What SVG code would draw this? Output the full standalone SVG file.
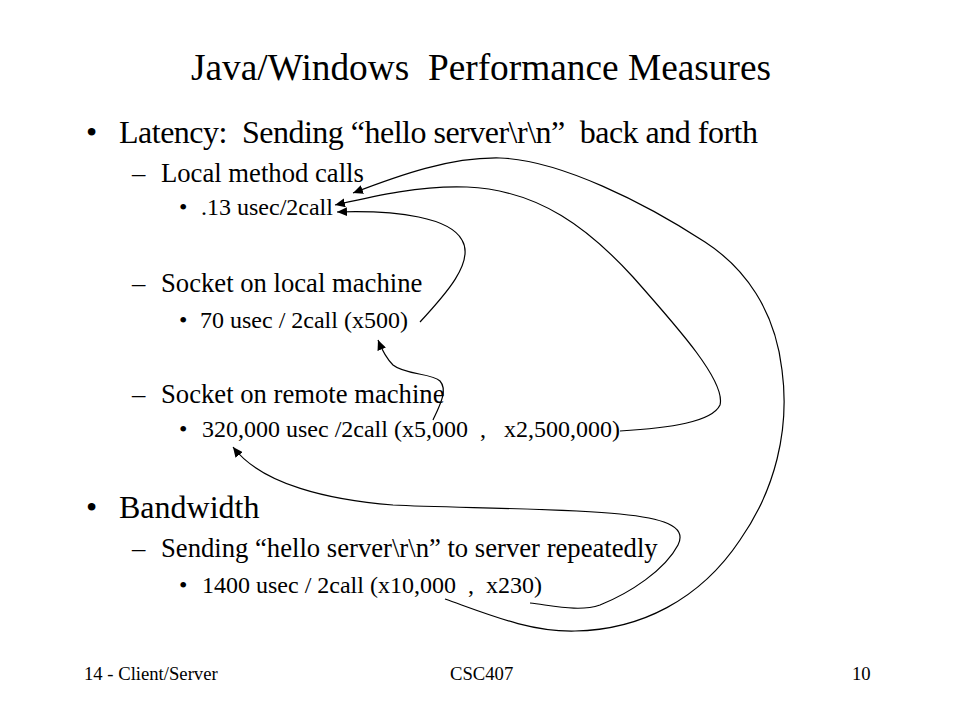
<svg xmlns="http://www.w3.org/2000/svg" width="960" height="720" viewBox="0 0 960 720">
<style>
text { font-family: "Liberation Serif", "Times New Roman", serif; fill: #000; white-space: pre; }
.title { font-size: 37.33px; }
.l1 { font-size: 32px; }
.l2 { font-size: 26.67px; }
.l3 { font-size: 24px; }
.foot { font-size: 18.67px; }
.conn { fill: none; stroke: #000; stroke-width: 1.2; marker-end: url(#ah); }
</style>
<defs>
<marker id="ah" markerUnits="userSpaceOnUse" markerWidth="11" markerHeight="9" refX="10" refY="4.5" orient="auto">
<path d="M0,0 L10,4.5 L0,9 z" fill="#000"/>
</marker>
</defs>
<rect width="960" height="720" fill="#fff"/>
<g id="title"><text class="title" x="481" y="80" text-anchor="middle" xml:space="preserve">Java/Windows  Performance Measures</text></g>
<g id="latency">
<text class="l1" x="86" y="143">•</text>
<text class="l1" x="119" y="143" xml:space="preserve" textLength="639" lengthAdjust="spacing">Latency:  Sending “hello server\r\n”  back and forth</text>
</g>
<g id="local-method">
<text class="l2" x="132" y="182">–</text>
<text class="l2" x="161" y="182">Local method calls</text>
</g>
<g id="local-method-val">
<text class="l3" x="179" y="215">•</text>
<text class="l3" x="201" y="215">.13 usec/2call</text>
</g>
<g id="socket-local">
<text class="l2" x="132" y="292">–</text>
<text class="l2" x="161" y="292">Socket on local machine</text>
</g>
<g id="socket-local-val">
<text class="l3" x="179" y="328">•</text>
<text class="l3" x="200" y="328">70 usec / 2call (x500)</text>
</g>
<g id="socket-remote">
<text class="l2" x="132" y="403">–</text>
<text class="l2" x="161" y="403">Socket on remote machine</text>
</g>
<g id="socket-remote-val">
<text class="l3" x="179" y="437">•</text>
<text class="l3" x="202" y="437" xml:space="preserve">320,000 usec /2call (x5,000  ,   x2,500,000)</text>
</g>
<g id="bandwidth">
<text class="l1" x="86" y="518">•</text>
<text class="l1" x="119" y="518">Bandwidth</text>
</g>
<g id="sending">
<text class="l2" x="132" y="557">–</text>
<text class="l2" x="161" y="557">Sending “hello server\r\n” to server repeatedly</text>
</g>
<g id="bandwidth-val">
<text class="l3" x="179" y="593">•</text>
<text class="l3" x="202" y="593" xml:space="preserve">1400 usec / 2call (x10,000  ,  x230)</text>
</g>
<g id="footer">
<text class="foot" x="84" y="680">14 - Client/Server</text>
<text class="foot" x="450" y="680">CSC407</text>
<text class="foot" x="852" y="680">10</text>
</g>
<g id="connectors">
<path class="conn" d="M420,322 C445,295 475,262 462,240 C450,218 400,210 337,212"/>
<path class="conn" d="M620,431 C670,428 712,422 720,405 C726,382 680,330 633,277 C590,230 540,190 467,187 C420,185 370,197 335,205"/>
<path class="conn" d="M445,599 C490,615 530,632 575,631 C640,630 700,600 740,540 C775,490 790,430 782,370 C775,310 745,268 705,242 C645,203 560,160 500,158 C450,157 400,175 353,193"/>
<path class="conn" d="M433,420 C440,405 448,390 440,381 C432,373 405,375 393,365 C386,358 382,350 378,340"/>
<path class="conn" d="M530,603 C555,606 580,612 600,605 C630,593 665,570 678,545 C688,525 660,518 620,514 C560,508 450,508 393,505 C330,500 262,485 233,447"/>
</g>
</svg>
